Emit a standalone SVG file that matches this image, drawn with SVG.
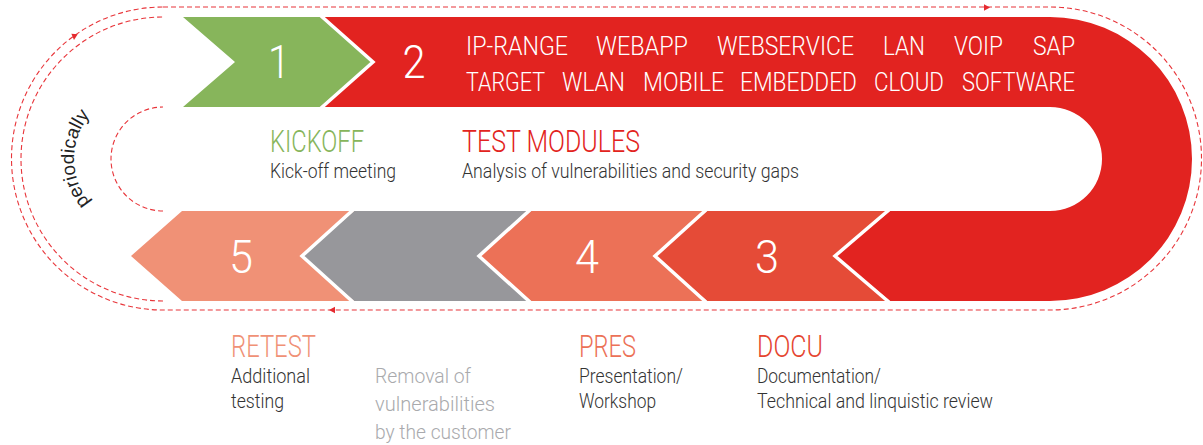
<svg xmlns="http://www.w3.org/2000/svg" width="1203" height="445" viewBox="0 0 1203 445">
<style>
  text { font-family: Roboto, "Liberation Sans", sans-serif; font-weight: 300; }
  .num { fill: #ffffff; font-size: 46px; text-anchor: middle; }
  .mod { fill: #ffffff; font-size: 25px; }
  .title { font-size: 32px; }
  .body { fill: #333333; font-size: 20px; }
  .grey { fill: #a9aaad; font-size: 20px; }
  .sep { fill: none; stroke: #ffffff; stroke-width: 3.5; }
  .dash { fill: none; stroke: #e8353a; stroke-width: 1.1; stroke-dasharray: 5 3; }
  .ah { fill: #e52a2f; }
  .per { font-family: "Liberation Sans", Arial, sans-serif; font-weight: 400; font-size: 19px; fill: #222222; }
</style>
<defs>
  <path id="arrowhead" d="M0,0 L-6,-3.2 L-6,3.2 Z"/>
  <path id="perPath" d="M 103,214.7 A 68 68 0 0 1 103,103.3"/>
</defs>

<g id="connectors">
  <path class="dash" d="M 163,7 L 1050,7 A 151.5 151.5 0 0 1 1050,310 L 163,310 A 151.5 151.5 0 0 1 163,7 Z"/>
  <path class="dash" d="M 163,301 A 142 142 0 0 1 163,17"/>
  <path class="dash" d="M 163,211 A 52 52 0 0 1 163,107"/>
  <use href="#arrowhead" class="ah" transform="translate(990,7.5)"/>
  <use href="#arrowhead" class="ah" transform="translate(329,310) rotate(180)"/>
  <use href="#arrowhead" class="ah" transform="translate(74,40) rotate(95)"/>
</g>

<g id="node-1">
  <path fill="#87b55b" d="M 183,17 L 320,17 L 373,62 L 320,107 L 183,107 L 235,62 Z"/>
  <text class="num" x="279" y="78" textLength="22" lengthAdjust="spacingAndGlyphs">1</text>
  <text class="title" x="270" y="152" fill="#87b55b" textLength="94" lengthAdjust="spacingAndGlyphs">KICKOFF</text>
  <text class="body" x="270" y="178" textLength="126" lengthAdjust="spacingAndGlyphs">Kick-off meeting</text>
</g>

<g id="node-2">
  <path fill="#e22320" d="M 320,17 L 1050,17 A 142 142 0 0 1 1050,301 L 890,301 L 835,256 L 890,211 L 1050,211 A 52 52 0 0 0 1050,107 L 320,107 L 373,62 Z"/>
  <text class="num" x="414" y="78" textLength="23" lengthAdjust="spacingAndGlyphs">2</text>
  <text class="mod" x="466" y="55" textLength="102" lengthAdjust="spacingAndGlyphs">IP-RANGE</text>
  <text class="mod" x="596" y="55" textLength="92" lengthAdjust="spacingAndGlyphs">WEBAPP</text>
  <text class="mod" x="717" y="55" textLength="137" lengthAdjust="spacingAndGlyphs">WEBSERVICE</text>
  <text class="mod" x="883" y="55" textLength="42" lengthAdjust="spacingAndGlyphs">LAN</text>
  <text class="mod" x="954" y="55" textLength="49" lengthAdjust="spacingAndGlyphs">VOIP</text>
  <text class="mod" x="1033" y="55" textLength="42" lengthAdjust="spacingAndGlyphs">SAP</text>
  <text class="mod" x="466" y="91" textLength="79" lengthAdjust="spacingAndGlyphs">TARGET</text>
  <text class="mod" x="562" y="91" textLength="63" lengthAdjust="spacingAndGlyphs">WLAN</text>
  <text class="mod" x="643" y="91" textLength="81" lengthAdjust="spacingAndGlyphs">MOBILE</text>
  <text class="mod" x="740" y="91" textLength="117" lengthAdjust="spacingAndGlyphs">EMBEDDED</text>
  <text class="mod" x="874" y="91" textLength="70" lengthAdjust="spacingAndGlyphs">CLOUD</text>
  <text class="mod" x="962" y="91" textLength="113" lengthAdjust="spacingAndGlyphs">SOFTWARE</text>
  <text class="title" x="462" y="152" fill="#e22320" textLength="178" lengthAdjust="spacingAndGlyphs">TEST MODULES</text>
  <text class="body" x="462" y="178" textLength="337" lengthAdjust="spacingAndGlyphs">Analysis of vulnerabilities and security gaps</text>
</g>

<g id="node-3">
  <path fill="#e54b37" d="M 707,211 L 890,211 L 835,256 L 890,301 L 707,301 L 655,256 Z"/>
  <text class="num" x="767" y="273" textLength="24" lengthAdjust="spacingAndGlyphs">3</text>
  <text class="title" x="757" y="357" fill="#e5452f" textLength="66" lengthAdjust="spacingAndGlyphs">DOCU</text>
  <text class="body" x="757" y="383" textLength="124" lengthAdjust="spacingAndGlyphs">Documentation/</text>
  <text class="body" x="757" y="408" textLength="236" lengthAdjust="spacingAndGlyphs">Technical and linquistic review</text>
</g>

<g id="node-4">
  <path fill="#ec7157" d="M 531,211 L 707,211 L 655,256 L 707,301 L 531,301 L 479,256 Z"/>
  <text class="num" x="587" y="273" textLength="24" lengthAdjust="spacingAndGlyphs">4</text>
  <text class="title" x="579" y="357" fill="#ec7157" textLength="57" lengthAdjust="spacingAndGlyphs">PRES</text>
  <text class="body" x="579" y="383" textLength="104" lengthAdjust="spacingAndGlyphs">Presentation/</text>
  <text class="body" x="579" y="408" textLength="77" lengthAdjust="spacingAndGlyphs">Workshop</text>
</g>

<g id="node-removal">
  <path fill="#97979b" d="M 354,211 L 531,211 L 479,256 L 531,301 L 354,301 L 302,256 Z"/>
  <text class="grey" x="375" y="383" textLength="96" lengthAdjust="spacingAndGlyphs">Removal of</text>
  <text class="grey" x="375" y="411" textLength="120" lengthAdjust="spacingAndGlyphs">vulnerabilities</text>
  <text class="grey" x="375" y="439" textLength="136" lengthAdjust="spacingAndGlyphs">by the customer</text>
</g>

<g id="node-5">
  <path fill="#f09176" d="M 182,211 L 354,211 L 302,256 L 354,301 L 182,301 L 131,256 Z"/>
  <text class="num" x="241" y="273" textLength="24" lengthAdjust="spacingAndGlyphs">5</text>
  <text class="title" x="231" y="357" fill="#f09176" textLength="85" lengthAdjust="spacingAndGlyphs">RETEST</text>
  <text class="body" x="231" y="383" textLength="79" lengthAdjust="spacingAndGlyphs">Additional</text>
  <text class="body" x="231" y="408" textLength="53" lengthAdjust="spacingAndGlyphs">testing</text>
</g>

<g id="separators">
  <polyline class="sep" points="320,15 373,62 320,109"/>
  <polyline class="sep" points="890,209 835,256 890,303"/>
  <polyline class="sep" points="707,209 655,256 707,303"/>
  <polyline class="sep" points="531,209 479,256 531,303"/>
  <polyline class="sep" points="354,209 302,256 354,303"/>
</g>

<g id="label-periodically">
  <text class="per"><textPath href="#perPath" startOffset="50%" text-anchor="middle">periodically</textPath></text>
</g>
</svg>
